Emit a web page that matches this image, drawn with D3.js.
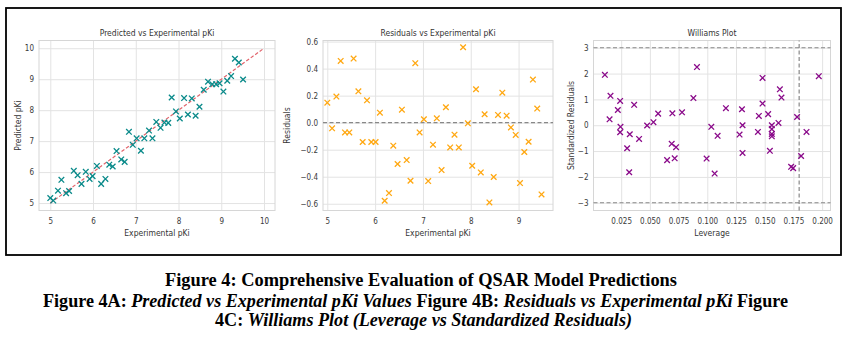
<!DOCTYPE html>
<html>
<head>
<meta charset="utf-8">
<script src="https://cdn.jsdelivr.net/npm/d3@7.9.0/dist/d3.min.js"></script>
<style>
  body { margin: 0; background: #fff; }
  svg { display: block; }
  .mpl { font-family: 'DejaVu Sans', sans-serif; }
  .caption { font-weight: bold; fill: #000; }
</style>
</head>
<body>
<svg id="chart" width="845" height="352"></svg>
<script>
// --- data ---
const expA = [5.00, 5.07, 5.18, 5.26, 5.37, 5.44, 5.55, 5.64, 5.73, 5.83,
  5.92, 5.99, 6.09, 6.19, 6.29, 6.38, 6.46, 6.55, 6.66, 6.74,
  6.84, 6.93, 7.02, 7.12, 7.20, 7.31, 7.39, 7.48, 7.58, 7.67,
  7.76, 7.84, 7.94, 8.03, 8.13, 8.22, 8.31, 8.40, 8.49, 8.59,
  8.69, 8.79, 8.88, 8.96, 9.05, 9.14, 9.23, 9.32, 9.41, 9.51];
const predA = [5.16, 5.08, 5.40, 5.75, 5.32, 5.39, 6.04, 5.90, 5.62, 6.01,
  5.78, 5.87, 6.20, 5.62, 5.78, 6.24, 6.18, 6.68, 6.41, 6.33,
  7.30, 6.88, 7.09, 6.69, 7.09, 7.34, 7.09, 7.62, 7.43, 7.60,
  7.59, 8.41, 7.96, 7.73, 8.39, 7.86, 8.38, 7.82, 8.11, 8.66,
  8.92, 8.84, 8.84, 8.87, 8.60, 8.95, 9.10, 9.66, 9.54, 8.99];
const idealLine = [5, 10];

const expB = [5.00, 5.10, 5.19, 5.28, 5.37, 5.46, 5.55, 5.65, 5.74, 5.83,
  5.92, 6.01, 6.10, 6.20, 6.29, 6.38, 6.47, 6.56, 6.66, 6.74,
  6.84, 6.93, 7.02, 7.11, 7.21, 7.29, 7.39, 7.48, 7.57, 7.66,
  7.75, 7.84, 7.94, 8.03, 8.11, 8.21, 8.29, 8.39, 8.48, 8.57,
  8.66, 8.75, 8.84, 8.94, 9.03, 9.12, 9.21, 9.30, 9.39, 9.48];
const residB = [0.148, -0.042, 0.193, 0.457, -0.072, -0.072, 0.474, 0.232, -0.143, 0.165,
  -0.143, -0.143, 0.074, -0.578, -0.521, -0.170, -0.306, 0.096, -0.277, -0.430,
  0.440, -0.072, 0.025, -0.432, -0.163, 0.032, -0.351, 0.114, -0.183, -0.089,
  -0.183, 0.558, -0.005, -0.319, 0.247, -0.368, 0.062, -0.590, -0.402, 0.057,
  0.222, 0.052, -0.035, -0.091, -0.447, -0.217, -0.141, 0.319, 0.104, -0.531];

const leverageC = [0.0108, 0.0157, 0.0149, 0.0221, 0.0241, 0.0244, 0.0241, 0.0302, 0.0320, 0.0325,
  0.0363, 0.0406, 0.0476, 0.0531, 0.0572, 0.0650, 0.0690, 0.0696, 0.0716, 0.0728,
  0.0780, 0.0879, 0.0910, 0.0994, 0.1035, 0.1064, 0.1090, 0.1162, 0.1281, 0.1302,
  0.1307, 0.1307, 0.1441, 0.1449, 0.1481, 0.1481, 0.1530, 0.1545, 0.1562, 0.1562,
  0.1562, 0.1562, 0.1620, 0.1632, 0.1646, 0.1730, 0.1748, 0.1782, 0.1817, 0.1864, 0.1971];
const stdResC = [1.95, 1.14, 0.23, 0.59, 0.94, -0.06, -0.27, -0.89, -1.82, -0.35,
  0.79, -0.53, -0.01, 0.12, 0.45, -1.35, -0.72, 0.46, -1.28, -0.85,
  0.50, 1.05, 2.25, -1.29, -0.06, -1.87, -0.41, 0.66, -0.36, 0.62,
  0.00, -1.07, -0.26, 0.36, 1.83, 0.84, 0.43, -0.99, 0.00, -0.15,
  -0.34, -0.43, 0.09, 1.39, 1.07, -1.61, -1.66, 0.32, -1.19, -0.26, 1.90];
const stdResLimits = [-3, 3];
const leverageCutoff = 0.18;

const ticksA = [5, 6, 7, 8, 9, 10];
const ticksBx = [5, 6, 7, 8, 9];
const ticksBy = [-0.6, -0.4, -0.2, 0.0, 0.2, 0.4, 0.6];
const ticksCx = [0.025, 0.05, 0.075, 0.1, 0.125, 0.15, 0.175, 0.2];
const ticksCy = [-3, -2, -1, 0, 1, 2, 3];

const minus = s => s.replace('-', '\u2212');

const svg = d3.select('#chart');
svg.append('rect').attr('width', 845).attr('height', 352).attr('fill', '#fff');
svg.append('rect')
  .attr('x', 6).attr('y', 8).attr('width', 835).attr('height', 247)
  .attr('fill', 'none').attr('stroke', '#000').attr('stroke-width', 1.8);

const plotTop = 40.5, plotBottom = 210.5;

function drawPanel(p) {
  const g = svg.append('g').attr('class', 'mpl');
  const x = d3.scaleLinear().domain(p.xDomain).range([p.left, p.right]);
  const y = d3.scaleLinear().domain(p.yDomain).range([plotBottom, plotTop]);

  // grid
  g.append('g')
    .attr('transform', `translate(0,${plotBottom})`)
    .call(d3.axisBottom(x).tickValues(p.xTicks).tickSize(-(plotBottom - plotTop)).tickFormat(''))
    .call(a => a.select('.domain').remove())
    .selectAll('line').attr('stroke', '#e3e3e3').attr('stroke-width', 1);
  g.append('g')
    .attr('transform', `translate(${p.left},0)`)
    .call(d3.axisLeft(y).tickValues(p.yTicks).tickSize(-(p.right - p.left)).tickFormat(''))
    .call(a => a.select('.domain').remove())
    .selectAll('line').attr('stroke', '#e3e3e3').attr('stroke-width', 1);

  g.append('rect')
    .attr('x', p.left).attr('y', plotTop)
    .attr('width', p.right - p.left).attr('height', plotBottom - plotTop)
    .attr('fill', 'none').attr('stroke', '#d6d6d6').attr('stroke-width', 1);

  // tick labels
  const xa = g.append('g')
    .attr('transform', `translate(0,${plotBottom})`)
    .call(d3.axisBottom(x).tickValues(p.xTicks).tickSize(0).tickPadding(7.5).tickFormat(p.xFormat));
  const ya = g.append('g')
    .attr('transform', `translate(${p.left},0)`)
    .call(d3.axisLeft(y).tickValues(p.yTicks).tickSize(0).tickPadding(5).tickFormat(p.yFormat));
  [xa, ya].forEach(a => {
    a.select('.domain').remove();
    a.selectAll('text')
      .attr('font-family', "'DejaVu Sans', sans-serif")
      .attr('font-size', 8.2).attr('fill', '#3a3a3a')
      .classed('squeeze', true);
  });

  if (p.extra) p.extra(g, x, y);

  // markers
  const r = 2.8;
  g.append('g').selectAll('path')
    .data(p.xs.map((v, i) => [v, p.ys[i]]))
    .join('path')
    .attr('d', `M${-r},${-r}L${r},${r}M${-r},${r}L${r},${-r}`)
    .attr('transform', d => `translate(${x(d[0])},${y(d[1])})`)
    .attr('stroke', p.color).attr('stroke-width', 1.3).attr('fill', 'none');

  const cx = (p.left + p.right) / 2;
  g.append('text')
    .attr('x', cx).attr('y', 35.5).attr('text-anchor', 'middle')
    .attr('font-size', 8.7).attr('fill', '#333').attr('class', 'squeeze')
    .text(p.title);
  g.append('text')
    .attr('x', cx).attr('y', 235.5).attr('text-anchor', 'middle')
    .attr('font-size', 8.7).attr('fill', '#333').attr('class', 'squeeze')
    .text(p.xLabel);
  g.append('text')
    .attr('transform', `translate(${p.yLabelX},${(plotTop + plotBottom) / 2}) rotate(-90)`)
    .attr('text-anchor', 'middle')
    .attr('font-size', 8.7).attr('fill', '#333').attr('class', 'squeeze')
    .text(p.yLabel);
}

drawPanel({
  left: 39, right: 275,
  xDomain: [4.736, 10.257], yDomain: [4.76, 10.25],
  xTicks: ticksA, yTicks: ticksA,
  xFormat: d3.format('d'), yFormat: d3.format('d'),
  xs: expA, ys: predA, color: '#0a8a8a',
  title: 'Predicted vs Experimental pKi',
  xLabel: 'Experimental pKi', yLabel: 'Predicted pKi', yLabelX: 20.7,
  extra: (g, x, y) => {
    g.append('line')
      .attr('x1', x(idealLine[0])).attr('y1', y(idealLine[0]))
      .attr('x2', x(idealLine[1])).attr('y2', y(idealLine[1]))
      .attr('stroke', '#e2646c').attr('stroke-width', 1.2)
      .attr('stroke-dasharray', '3.5,2');
  }
});

drawPanel({
  left: 323, right: 553,
  xDomain: [4.91, 9.72], yDomain: [-0.65, 0.608],
  xTicks: ticksBx, yTicks: ticksBy,
  xFormat: d3.format('d'), yFormat: d => minus(d3.format('.1f')(d)),
  xs: expB, ys: residB, color: '#ffa812',
  title: 'Residuals vs Experimental pKi',
  xLabel: 'Experimental pKi', yLabel: 'Residuals', yLabelX: 290,
  extra: (g, x, y) => {
    g.append('line')
      .attr('x1', x.range()[0]).attr('x2', x.range()[1])
      .attr('y1', y(0)).attr('y2', y(0))
      .attr('stroke', '#888').attr('stroke-width', 1.2)
      .attr('stroke-dasharray', '4,2.5');
  }
});

drawPanel({
  left: 593.5, right: 830.5,
  xDomain: [0.0009, 0.2073], yDomain: [-3.30, 3.28],
  xTicks: ticksCx, yTicks: ticksCy,
  xFormat: d3.format('.3f'), yFormat: d => minus(String(d)),
  xs: leverageC, ys: stdResC, color: '#8a0a8a',
  title: 'Williams Plot',
  xLabel: 'Leverage', yLabel: 'Standardized Residuals', yLabelX: 573.5,
  extra: (g, x, y) => {
    stdResLimits.forEach(v => {
      g.append('line')
        .attr('x1', x.range()[0]).attr('x2', x.range()[1])
        .attr('y1', y(v)).attr('y2', y(v))
        .attr('stroke', '#888').attr('stroke-width', 1.2)
        .attr('stroke-dasharray', '4,2.5');
    });
    g.append('line')
      .attr('x1', x(leverageCutoff)).attr('x2', x(leverageCutoff))
      .attr('y1', y.range()[0]).attr('y2', y.range()[1])
      .attr('stroke', '#888').attr('stroke-width', 1.2)
      .attr('stroke-dasharray', '4,2.5');
  }
});

// the source figure is slightly squeezed horizontally
svg.selectAll('.squeeze').each(function () {
  const len = this.getComputedTextLength();
  d3.select(this).attr('textLength', len * 0.88).attr('lengthAdjust', 'spacingAndGlyphs');
});

// caption below the box
const captionLines = [
  { x: 165, y: 285.5, width: 512, parts: [['Figure 4: Comprehensive Evaluation of QSAR Model Predictions', false]] },
  { x: 43, y: 307, width: 745, parts: [
    ['Figure 4A: ', false], ['Predicted vs Experimental pKi Values', true],
    [' Figure 4B: ', false], ['Residuals vs Experimental pKi', true], [' Figure', false]] },
  { x: 215, y: 326, width: 417, parts: [
    ['4C: ', false], ['Williams Plot (Leverage vs Standardized Residuals)', true]] }
];

captionLines.forEach(line => {
  const t = svg.append('text')
    .attr('class', 'caption')
    .attr('font-family', "'Liberation Serif', 'Times New Roman', Times, serif")
    .attr('x', line.x).attr('y', line.y)
    .attr('font-size', 18.5)
    .attr('textLength', line.width).attr('lengthAdjust', 'spacingAndGlyphs')
    .attr('xml:space', 'preserve');
  line.parts.forEach(([txt, italic]) => {
    t.append('tspan').attr('font-style', italic ? 'italic' : 'normal').text(txt);
  });
});
</script>
</body>
</html>
